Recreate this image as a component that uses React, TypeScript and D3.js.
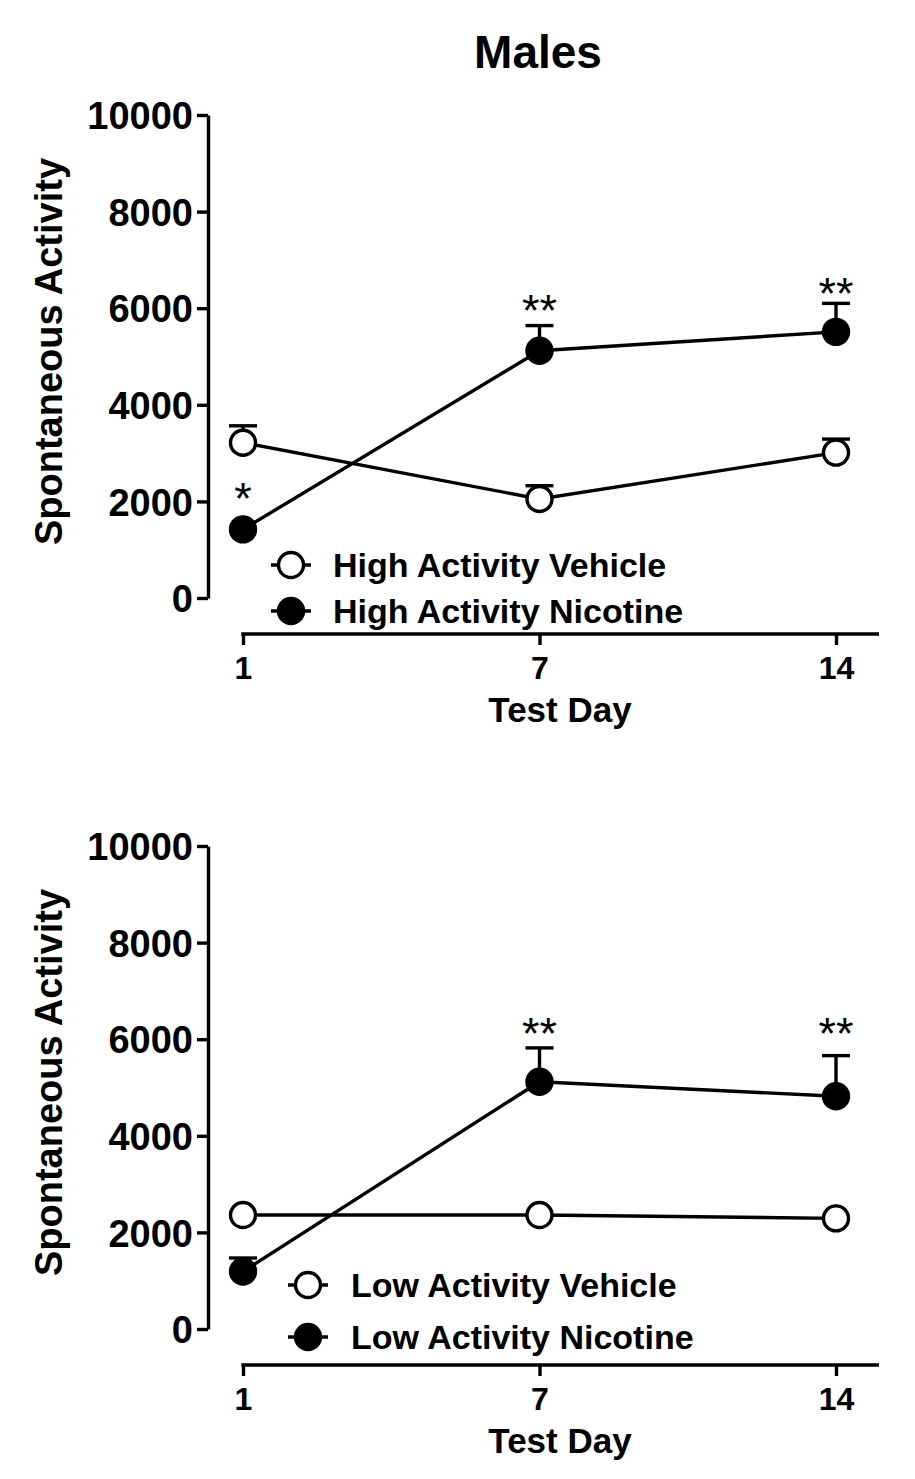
import { useEffect, useRef } from 'react';
import * as d3 from 'd3';

const days = ["1", "7", "14"];
const yTicks = [0, 2000, 4000, 6000, 8000, 10000];

// top panel
const highVehicleMean = [3215, 2050, 3010];
const highVehicleSem = [350, 275, 280];
const highNicotineMean = [1420, 5120, 5510];
const highNicotineSem = [0, 520, 590];
const highStars = ["*", "**", "**"];
const highStarLevel = [2280, 6170, 6530];

// bottom panel
const lowVehicleMean = [2360, 2360, 2290];
const lowVehicleSem = [0, 0, 0];
const lowNicotineMean = [1190, 5120, 4820];
const lowNicotineSem = [280, 700, 840];
const lowStars = ["", "**", "**"];
const lowStarLevel = [0, 6340, 6340];

const FONT = "'Liberation Sans', Arial, Helvetica, sans-serif";

interface Panel {
  top: number;
  bottom: number;
  xAxisY: number;
  legendX: number;
  legendY: number[];
  legendTextX: number;
  series: { name: string; mean: number[]; sem: number[]; filled: boolean }[];
  stars: string[];
  starLevel: number[];
}

const panels: Panel[] = [
  {
    top: 115, bottom: 598, xAxisY: 634,
    legendX: 291, legendY: [565, 611], legendTextX: 333,
    series: [
      { name: "High Activity Vehicle", mean: highVehicleMean, sem: highVehicleSem, filled: false },
      { name: "High Activity Nicotine", mean: highNicotineMean, sem: highNicotineSem, filled: true },
    ],
    stars: highStars, starLevel: highStarLevel,
  },
  {
    top: 846, bottom: 1329, xAxisY: 1365,
    legendX: 308, legendY: [1285, 1337], legendTextX: 351,
    series: [
      { name: "Low Activity Vehicle", mean: lowVehicleMean, sem: lowVehicleSem, filled: false },
      { name: "Low Activity Nicotine", mean: lowNicotineMean, sem: lowNicotineSem, filled: true },
    ],
    stars: lowStars, starLevel: lowStarLevel,
  },
];

export default function App() {
  const ref = useRef<SVGSVGElement>(null);

  useEffect(() => {
    if (!ref.current) return;
    const svg = d3.select(ref.current);
    svg.selectAll("*").remove();

    const W = 915, H = 1479;
    svg.attr("width", W).attr("height", H);
    svg.append("rect").attr("width", W).attr("height", H).attr("fill", "#fff");

    const axisLeftX = 208;
    const x = d3.scalePoint<string>().domain(days).range([243, 836]).padding(0);
    const xEnd = 879;
    const r = 12.5;
    const capHalf = 14;
    const sw = 3.4;

    svg.append("text")
      .attr("x", 538).attr("y", 68)
      .attr("text-anchor", "middle")
      .style("font-family", FONT).style("font-weight", "bold").style("font-size", "46px")
      .text("Males");

    panels.forEach((p) => {
      const y = d3.scaleLinear().domain([0, 10000]).range([p.bottom, p.top]);
      const g = svg.append("g");

      // y axis
      const yAxis = g.append("g")
        .attr("transform", `translate(${axisLeftX},0)`)
        .call(d3.axisLeft(y).tickValues(yTicks).tickFormat(d3.format("d")).tickSize(11).tickPadding(4).tickSizeOuter(0));
      yAxis.select(".domain").attr("stroke-width", sw).attr("stroke", "#000");
      yAxis.selectAll(".tick line").attr("stroke-width", sw).attr("stroke", "#000");
      yAxis.selectAll(".tick text")
        .attr("fill", "#000")
        .style("font-family", FONT).style("font-weight", "bold").style("font-size", "38px")
        .attr("dy", "0.36em");

      // x axis
      const xAxis = g.append("g")
        .attr("transform", `translate(0,${p.xAxisY})`)
        .call(d3.axisBottom(x).tickSize(11).tickPadding(11).tickSizeOuter(0));
      xAxis.select(".domain").remove();
      xAxis.append("line")
        .attr("x1", x(days[0])! - sw / 2).attr("x2", xEnd)
        .attr("stroke", "#000").attr("stroke-width", sw);
      xAxis.selectAll(".tick line").attr("stroke-width", sw).attr("stroke", "#000");
      xAxis.selectAll(".tick text")
        .attr("fill", "#000")
        .style("font-family", FONT).style("font-weight", "bold").style("font-size", "32px");

      // axis titles
      g.append("text")
        .attr("transform", `translate(62,${(p.top + p.bottom) / 2 - 5}) rotate(-90)`)
        .attr("text-anchor", "middle")
        .style("font-family", FONT).style("font-weight", "bold").style("font-size", "38px")
        .text("Spontaneous Activity");

      g.append("text")
        .attr("x", 560).attr("y", p.xAxisY + 88)
        .attr("text-anchor", "middle")
        .style("font-family", FONT).style("font-weight", "bold").style("font-size", "35px")
        .text("Test Day");

      const line = d3.line<number>()
        .x((_, i) => x(days[i])!)
        .y(d => y(d));

      p.series.forEach((s) => {
        g.append("path")
          .datum(s.mean)
          .attr("fill", "none")
          .attr("stroke", "#000")
          .attr("stroke-width", sw)
          .attr("d", line);

        // upward error bars
        s.mean.forEach((m, i) => {
          if (!s.sem[i]) return;
          const cx = x(days[i])!;
          g.append("line")
            .attr("x1", cx).attr("x2", cx)
            .attr("y1", y(m)).attr("y2", y(m + s.sem[i]))
            .attr("stroke", "#000").attr("stroke-width", sw);
          g.append("line")
            .attr("x1", cx - capHalf).attr("x2", cx + capHalf)
            .attr("y1", y(m + s.sem[i])).attr("y2", y(m + s.sem[i]))
            .attr("stroke", "#000").attr("stroke-width", sw);
        });
      });

      p.series.forEach((s) => {
        g.selectAll(null)
          .data(s.mean)
          .enter()
          .append("circle")
          .attr("cx", (_, i) => x(days[i])!)
          .attr("cy", d => y(d))
          .attr("r", r)
          .attr("fill", s.filled ? "#000" : "#fff")
          .attr("stroke", "#000")
          .attr("stroke-width", sw);
      });

      // significance stars
      p.stars.forEach((st, i) => {
        if (!st) return;
        g.append("text")
          .attr("x", x(days[i])!)
          .attr("y", y(p.starLevel[i]) + 26)
          .attr("text-anchor", "middle")
          .style("font-family", FONT).style("font-size", "45px")
          .text(st);
      });

      // legend
      p.series.forEach((s, i) => {
        const ly = p.legendY[i];
        g.append("line")
          .attr("x1", p.legendX - 20).attr("x2", p.legendX + 20)
          .attr("y1", ly).attr("y2", ly)
          .attr("stroke", "#000").attr("stroke-width", sw);
        g.append("circle")
          .attr("cx", p.legendX).attr("cy", ly).attr("r", r)
          .attr("fill", s.filled ? "#000" : "#fff")
          .attr("stroke", "#000").attr("stroke-width", sw);
        g.append("text")
          .attr("x", p.legendTextX).attr("y", ly + 12)
          .style("font-family", FONT).style("font-weight", "bold").style("font-size", "34px")
          .text(s.name);
      });
    });
  }, []);

  return (
    <div style={{ position: "absolute", left: 0, top: 0 }}>
      <svg ref={ref} style={{ display: "block" }} />
    </div>
  );
}
